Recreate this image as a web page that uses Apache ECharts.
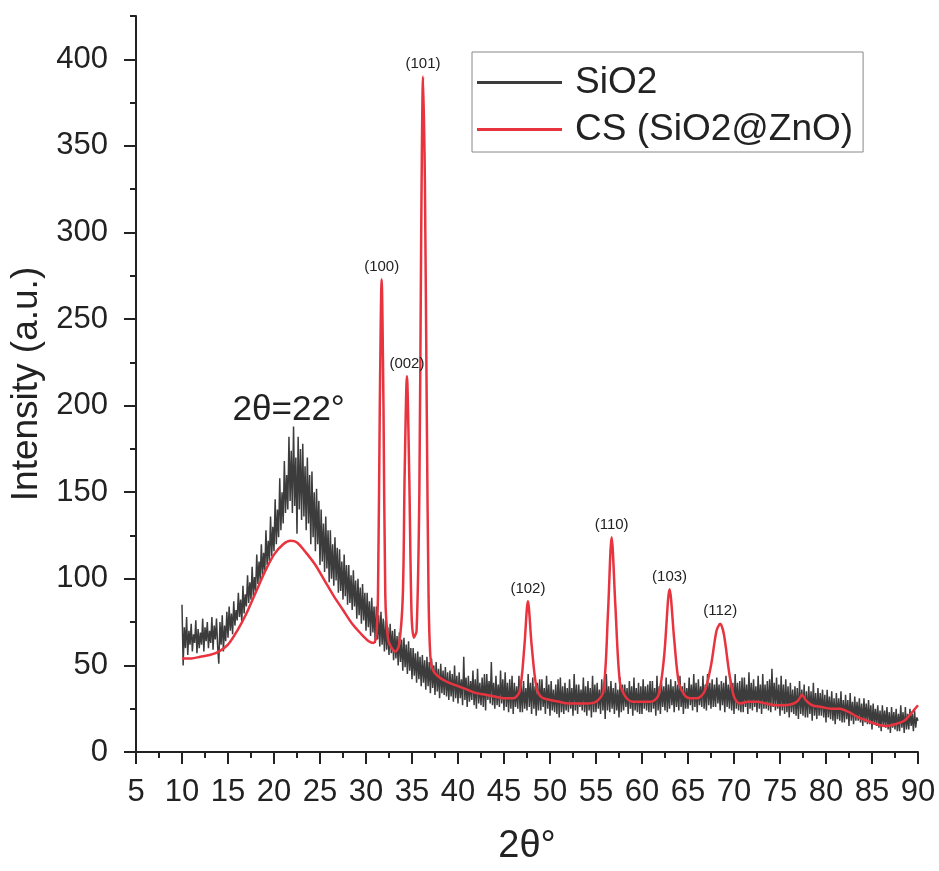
<!DOCTYPE html>
<html>
<head>
<meta charset="utf-8">
<script src="https://cdn.jsdelivr.net/npm/echarts@6/dist/echarts.min.js"></script>
<style>
  html, body { margin: 0; padding: 0; background: #fff; }
  #chart { width: 939px; height: 871px; }
</style>
</head>
<body>
<div id="chart"></div>
<script>
// SiO2 scan, 2θ from 10 to 90 in 0.125 steps (one row per degree)
const sio2Start = 10
const sio2Step = 0.125
const sio2Values = [
  85, 50, 72, 60, 78, 56, 70, 62,
  74, 58, 68, 63, 76, 57, 71, 60,
  69, 62, 77, 58, 72, 64, 75, 60,
  70, 63, 78, 59, 73, 65, 77, 61,
  51, 75, 62, 79, 58, 73, 64, 81,
  66, 84, 70, 80, 68, 87, 73, 82,
  76, 92, 78, 88, 75, 96, 80, 91,
  84, 102, 86, 98, 88, 107, 90, 101,
  93, 114, 97, 110, 99, 120, 102, 115,
  104, 128, 108, 122, 110, 136, 113, 130,
  116, 146, 120, 140, 124, 158, 128, 150,
  132, 168, 138, 160, 140, 182, 145, 174,
  138, 188, 142, 170, 126, 182, 140, 175,
  134, 178, 136, 165, 128, 170, 132, 160,
  120, 162, 124, 150, 116, 152, 120, 145,
  108, 140, 110, 132, 104, 136, 106, 128,
  98, 128, 100, 120, 96, 124, 99, 118,
  92, 117, 93, 110, 88, 114, 90, 108,
  85, 108, 86, 102, 82, 105, 84, 99,
  77, 100, 79, 95, 74, 97, 76, 92,
  70, 92, 72, 87, 67, 89, 69, 84,
  63, 84, 65, 79, 61, 81, 62, 77,
  58, 76, 59, 72, 56, 74, 57, 70,
  53, 71, 54, 67, 50, 69, 52, 65,
  47, 66, 49, 62, 45, 64, 47, 60,
  42, 60, 44, 57, 40, 58, 42, 55,
  38, 56, 40, 53, 36, 55, 38, 52,
  34, 54, 37, 50, 33, 52, 35, 48,
  31, 51, 34, 47, 33, 49, 32, 46,
  30, 47, 32, 45, 29, 50, 31, 44,
  28, 46, 31, 42, 27, 55, 30, 43,
  26, 44, 29, 41, 30, 47, 27, 42,
  25, 48, 28, 40, 27, 43, 26, 45,
  24, 45, 30, 41, 28, 52, 27, 40,
  25, 44, 27, 39, 26, 47, 28, 42,
  24, 46, 26, 40, 23, 42, 25, 44,
  22, 40, 26, 38, 25, 44, 23, 39,
  23, 41, 25, 37, 24, 45, 26, 40,
  22, 43, 25, 38, 21, 40, 24, 42,
  24, 42, 26, 37, 22, 44, 25, 39,
  21, 41, 24, 36, 23, 39, 22, 42,
  20, 43, 23, 38, 22, 40, 24, 37,
  23, 42, 25, 37, 21, 45, 24, 39,
  22, 39, 26, 36, 24, 43, 23, 38,
  21, 41, 24, 37, 20, 44, 23, 39,
  23, 40, 25, 36, 22, 42, 24, 38,
  19, 45, 24, 38, 23, 41, 25, 37,
  22, 40, 24, 36, 20, 43, 23, 39,
  24, 39, 26, 37, 22, 41, 25, 38,
  21, 43, 24, 37, 23, 40, 22, 38,
  22, 42, 25, 38, 24, 39, 23, 41,
  23, 41, 25, 37, 21, 44, 24, 38,
  22, 40, 26, 38, 24, 43, 23, 39,
  25, 42, 27, 38, 23, 41, 26, 39,
  24, 44, 26, 38, 22, 40, 25, 37,
  25, 43, 27, 39, 24, 45, 26, 40,
  23, 42, 27, 38, 26, 44, 25, 39,
  24, 45, 27, 40, 25, 42, 26, 39,
  26, 43, 28, 39, 24, 41, 27, 40,
  23, 44, 26, 39, 25, 42, 24, 40,
  22, 45, 25, 40, 24, 41, 23, 43,
  23, 43, 26, 39, 22, 46, 25, 40,
  24, 42, 26, 38, 23, 44, 25, 39,
  22, 45, 25, 39, 25, 41, 24, 42,
  23, 48, 26, 40, 24, 43, 25, 39,
  21, 44, 24, 39, 22, 42, 23, 38,
  20, 40, 23, 36, 22, 38, 21, 37,
  19, 41, 22, 36, 21, 39, 20, 35,
  20, 38, 22, 35, 18, 40, 21, 34,
  19, 37, 21, 34, 21, 36, 20, 33,
  17, 36, 20, 32, 19, 35, 18, 31,
  16, 34, 19, 31, 18, 35, 17, 30,
  17, 33, 19, 30, 15, 34, 18, 29,
  16, 32, 18, 29, 18, 31, 17, 28,
  15, 31, 17, 28, 16, 30, 16, 27,
  13, 28, 16, 25, 15, 27, 14, 24,
  12, 27, 15, 24, 14, 26, 13, 23,
  11, 26, 14, 23, 13, 25, 12, 22,
  12, 27, 14, 23, 11, 26, 13, 22,
  13, 25, 15, 22, 12, 24, 14, 20,
  18
]

// CS (SiO2@ZnO) fitted curve
const csTheta = [
  10, 11, 12, 13, 14, 15, 16, 17, 18, 19, 20, 21, 21.8, 22.5, 23.5, 24.5, 25.5, 26.5, 27.5, 28.5,
  29.5, 30.3, 30.8, 31.1, 31.3, 31.5, 31.7, 31.9, 32.1, 32.4, 32.8, 33.2, 33.6, 34.0, 34.2, 34.45,
  34.7, 34.95, 35.2, 35.5, 35.8, 36.0, 36.2, 36.4, 36.6, 36.8, 37.0, 37.3, 38, 39, 40, 41, 42, 43,
  44, 45, 46, 46.7, 47.2, 47.6, 48.0, 48.5, 49, 50, 51, 52, 53, 54, 55, 55.8, 56.3, 56.7, 57.1,
  57.6, 58.2, 59, 60, 61, 61.8, 62.4, 63.0, 63.5, 64.0, 64.6, 65.2, 66, 66.8, 67.5, 68.1, 68.5,
  68.9, 69.5, 70.0, 70.6, 71.5, 72.5, 73.5, 74.5, 75.5, 76.5, 77.0, 77.4, 77.8, 78.5, 79.5, 80.5,
  81.5, 82.5, 83.5, 84.5, 85.5, 86.5, 87.5, 88.5, 89.2, 90
]
const csValues = [
  54, 54, 55, 56, 58, 62, 70, 80, 92, 104, 114, 120, 122, 121, 115, 108, 99, 90, 82, 74,
  68, 64, 63, 66, 90, 200, 273, 200, 90, 65, 60, 58, 62, 90, 160, 217,
  160, 80, 66, 70, 150, 300, 390, 330, 200, 90, 55, 47, 43, 40, 38, 36, 34, 33,
  32, 31, 31, 35, 60, 87, 62, 38, 32, 30, 29, 28, 28, 28, 29, 35, 80, 124, 85,
  40, 32, 29, 29, 29, 33, 55, 94, 65, 40, 33, 31, 31, 35, 50, 70, 74,
  68, 45, 32, 28, 29, 29, 28, 27, 27, 28, 30, 33, 30, 27, 26, 25,
  25, 23, 20, 18, 16, 15, 16, 18, 22, 27
]

// peaks marked with Miller indices
const peakNames = ['(100)', '(002)', '(101)', '(102)', '(110)', '(103)', '(112)']
const peakTheta = [31.7, 34.45, 36.2, 47.6, 56.7, 63.0, 68.5]
const peakHeight = [273, 217, 390, 87, 124, 94, 74]

// broad amorphous hump of SiO2
const humpText = '2θ=22°'
const humpPos = [21.6, 188]

const seriesNames = ['SiO2', 'CS (SiO2@ZnO)']

const FONT = 'Liberation Sans, Arial, sans-serif'
const INK = '#222'

const chart = echarts.init(document.getElementById('chart'))

const sio2Data = sio2Values.map((v, i) => [sio2Start + i * sio2Step, v])
const csData = csValues.map((v, i) => [csTheta[i], v])

const majorY = []
for (let v = 0; v <= 400; v += 50) majorY.push(v)

chart.setOption({
  animation: false,
  textStyle: { fontFamily: FONT, color: INK },
  grid: { left: 136, right: 21, top: 16, bottom: 112, containLabel: false },
  legend: {
    orient: 'vertical',
    left: 472,
    top: 52,
    padding: [12, 10, 4, 5],
    borderColor: '#888',
    borderWidth: 1,
    itemGap: 10,
    itemWidth: 85,
    itemHeight: 3,
    icon: 'rect',
    textStyle: { fontFamily: FONT, fontSize: 37, color: INK, padding: [0, 0, 0, 8] },
    data: seriesNames
  },
  xAxis: {
    type: 'value',
    min: 5,
    max: 90,
    interval: 5,
    name: '2θ°',
    nameLocation: 'middle',
    nameGap: 76,
    nameTextStyle: { fontSize: 38, color: INK },
    axisLine: { lineStyle: { color: INK, width: 2 } },
    axisTick: { length: 12, lineStyle: { color: INK, width: 2 } },
    minorTick: { show: true, splitNumber: 2, length: 6, lineStyle: { color: INK, width: 2 } },
    axisLabel: { fontSize: 31, color: INK, margin: 25 },
    splitLine: { show: false }
  },
  yAxis: [
    {
      type: 'value',
      min: 0,
      max: 425,
      interval: 25,
      name: 'Intensity (a.u.)',
      nameLocation: 'middle',
      nameGap: 87,
      nameTextStyle: { fontSize: 37, color: INK },
      axisLine: { show: true, lineStyle: { color: INK, width: 2 } },
      axisTick: { show: true, length: 6, lineStyle: { color: INK, width: 2 } },
      axisLabel: {
        fontSize: 31,
        color: INK,
        margin: 28,
        formatter: v => (v % 50 === 0 ? String(v) : '')
      },
      splitLine: { show: false }
    },
    {
      // longer ticks on the multiples of 50
      type: 'value',
      position: 'left',
      min: 0,
      max: 425,
      interval: 25,
      axisLine: { show: false },
      axisTick: { show: true, length: 12, customValues: majorY, lineStyle: { color: INK, width: 2 } },
      axisLabel: { show: false },
      splitLine: { show: false }
    }
  ],
  series: [
    {
      name: seriesNames[0],
      type: 'line',
      data: sio2Data,
      symbol: 'none',
      sampling: null,
      color: '#3c3c3c',
      lineStyle: { width: 1.5, color: '#3c3c3c' },
      markPoint: {
        symbol: 'circle',
        symbolSize: 0,
        label: {
          show: true,
          position: 'top',
          distance: -1,
          fontSize: 35,
          color: INK,
          fontFamily: FONT,
          formatter: () => humpText
        },
        data: [{ coord: humpPos }]
      }
    },
    {
      name: seriesNames[1],
      type: 'line',
      data: csData,
      symbol: 'none',
      smooth: 0.3,
      color: '#e8343f',
      lineStyle: { width: 2.5, color: '#e8343f' },
      markPoint: {
        symbol: 'circle',
        symbolSize: 0,
        label: {
          show: true,
          position: 'top',
          distance: 5,
          fontSize: 15,
          color: INK,
          fontFamily: FONT,
          formatter: p => p.name
        },
        data: peakNames.map((n, i) => ({ name: n, coord: [peakTheta[i], peakHeight[i]] }))
      }
    }
  ]
})
</script>
</body>
</html>
